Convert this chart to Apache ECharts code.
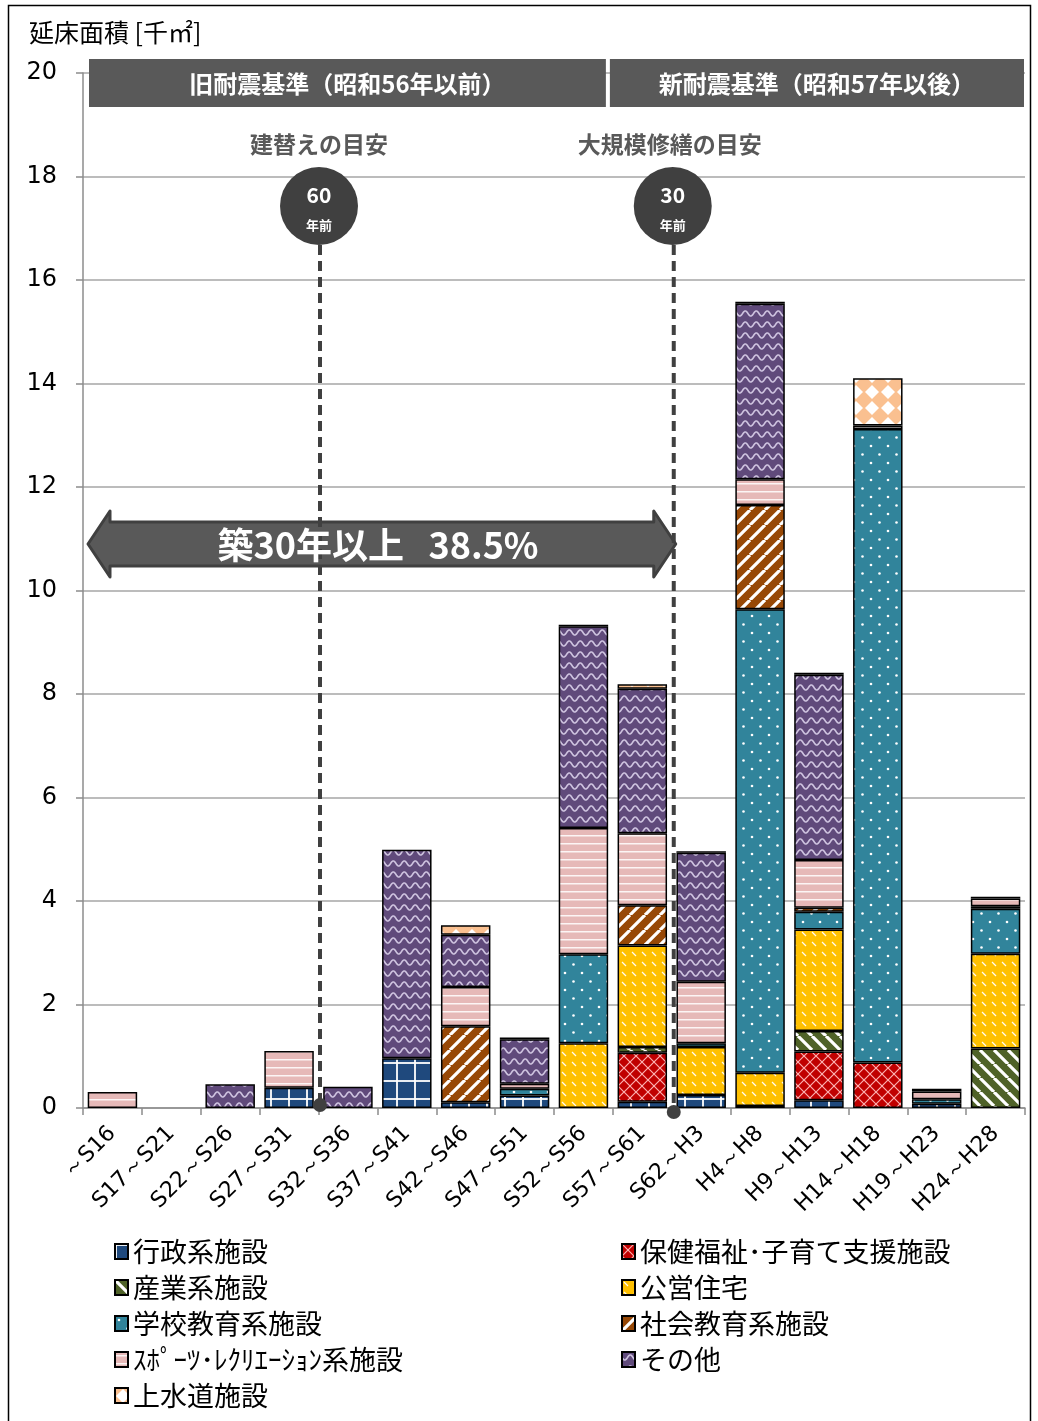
<!DOCTYPE html>
<html><head><meta charset="utf-8">
<script src="https://cdn.jsdelivr.net/npm/echarts@6/dist/echarts.min.js"></script>
<style>html,body{margin:0;padding:0;background:#fff}#c{width:1038px;height:1421px}</style>
</head><body><div id="c"></div>
<script>
// ---------- data ----------
const categories = ['～S16','S17～S21','S22～S26','S27～S31','S32～S36','S37～S41','S42～S46','S47～S51','S52～S56','S57～S61','S62～H3','H4～H8','H9～H13','H14～H18','H19～H23','H24～H28'];
const seriesNames = ['行政系施設','保健福祉･子育て支援施設','産業系施設','公営住宅','学校教育系施設','社会教育系施設','ｽﾎﾟｰﾂ･ﾚｸﾘｴｰｼｮﾝ系施設','その他','上水道施設'];
const gyosei  = [0,0,0,0.39,0,0.96,0.11,0.24,0,0.12,0.25,0.04,0.15,0,0.08,0];
const hoken   = [0,0,0,0,0,0,0,0,0,0.95,0,0,0.94,0.88,0,0];
const sangyo  = [0,0,0,0,0,0,0,0,0,0.11,0,0,0.40,0,0,1.15];
const koei    = [0,0,0,0,0,0,0,0,1.25,1.96,0.93,0.64,1.96,0,0,1.83];
const gakko   = [0,0,0,0,0,0,0,0.13,1.72,0,0.07,8.96,0.34,12.24,0.09,0.87];
const shakai  = [0,0,0,0,0,0,1.47,0,0,0.78,0,2.01,0.08,0,0,0.05];
const sports  = [0.31,0,0,0.71,0,0,0.76,0.10,2.44,1.39,1.19,0.50,0.92,0.07,0.15,0.15];
const sonota  = [0,0,0.46,0,0.41,4.03,1.01,0.86,3.90,2.79,2.49,3.39,3.58,0,0.05,0.03];
const josuido = [0,0,0,0,0,0,0.18,0.03,0.03,0.09,0.03,0.04,0.04,0.91,0,0];
const yTicks = {min:0, max:20, interval:2};
const yAxisTitle = '延床面積 [千㎡]';
const headerOld = '旧耐震基準（昭和56年以前）';
const headerNew = '新耐震基準（昭和57年以後）';
const guideRebuild = '建替えの目安';
const guideRepair = '大規模修繕の目安';
const circleRebuild = '60';
const circleRepair = '30';
const circleSub = '年前';
const arrowText = '築30年以上   38.5%';

// ---------- patterns ----------
function pat(w, h, bg, draw){
  const c = document.createElement('canvas'); c.width = w; c.height = h;
  const g = c.getContext('2d'); g.fillStyle = bg; g.fillRect(0,0,w,h);
  draw(g, w, h); return {image:c, repeat:'repeat'};
}
function diag(g, s, dir, lw, col){
  g.strokeStyle = col; g.lineWidth = lw; g.beginPath();
  for (let k=-1;k<=1;k++){
    if (dir === '/') { g.moveTo(k*s, s); g.lineTo(k*s+s, 0); }
    else { g.moveTo(k*s, 0); g.lineTo(k*s+s, s); }
  }
  g.stroke();
}
const fills = [
  pat(18,18,'#1F497D',(g,w,h)=>{g.fillStyle='rgba(255,255,255,0.9)';g.fillRect(0,0,w,2);g.fillRect(0,0,2,h);}),
  pat(12,12,'#C00000',(g,w,h)=>{diag(g,12,'/',1.2,'rgba(255,185,185,0.95)');diag(g,12,'\\',1.2,'rgba(255,185,185,0.95)');}),
  pat(14,14,'#4F6228',(g,w,h)=>{diag(g,14,'\\',3.2,'#ffffff');}),
  pat(10,10,'#FFC000',(g,w,h)=>{g.strokeStyle='rgba(255,255,255,0.95)';g.lineWidth=1.3;g.beginPath();g.moveTo(2,2);g.lineTo(6,6);g.stroke();}),
  pat(17,17,'#31849B',(g,w,h)=>{g.fillStyle='#ffffff';g.beginPath();g.arc(4,4,1.3,0,Math.PI*2);g.fill();g.beginPath();g.arc(12.5,12.5,1.3,0,Math.PI*2);g.fill();}),
  pat(15,15,'#974806',(g,w,h)=>{diag(g,15,'/',3.2,'#ffffff');}),
  pat(8,8,'#E6B9B8',(g,w,h)=>{g.fillStyle='rgba(255,255,255,0.85)';g.fillRect(0,3,w,1.5);}),
  pat(11,11,'#604A7B',(g,w,h)=>{g.strokeStyle='#CFC4E0';g.lineWidth=1.6;g.beginPath();for(let x=-1;x<=w+1;x+=0.5){const y=5.5+2.6*Math.sin(2*Math.PI*x/w);if(x===-1)g.moveTo(x,y);else g.lineTo(x,y);}g.stroke();}),
  pat(16,16,'#FAC090',(g,w,h)=>{g.fillStyle='#ffffff';g.beginPath();g.moveTo(8,1);g.lineTo(15,8);g.lineTo(8,15);g.lineTo(1,8);g.closePath();g.fill();})
];
const seriesData = [gyosei, hoken, sangyo, koei, gakko, shakai, sports, sonota, josuido];

const FONT_NUM = "'DejaVu Sans', Verdana, sans-serif";
const FONT_JP = "'Noto Sans CJK JP', sans-serif";

const chart = echarts.init(document.getElementById('c'), null, {renderer:'canvas'});
const legendCommon = {orient:'vertical', top:1233, itemWidth:13, itemHeight:15, itemGap:9, icon:'rect',
  textStyle:{fontFamily:FONT_JP, fontSize:27, lineHeight:26, color:'#000'}, selectedMode:false};
chart.setOption({
  animation:false,
  grid:{left:83, right:13, top:73, bottom:313, outerBoundsMode:'none'},
  xAxis:{type:'category', data:categories,
    axisLine:{lineStyle:{color:'#8C8C8C', width:1.5}},
    axisTick:{show:true, length:7, lineStyle:{color:'#8C8C8C', width:1.5}},
    axisLabel:{rotate:45, interval:0, fontFamily:FONT_NUM, fontSize:22, color:'#000', margin:22}},
  yAxis:{type:'value', min:yTicks.min, max:yTicks.max, interval:yTicks.interval,
    axisLine:{show:true, lineStyle:{color:'#8C8C8C', width:1.5}},
    axisTick:{show:true, length:7, lineStyle:{color:'#8C8C8C', width:1.5}},
    splitLine:{lineStyle:{color:'#A6A6A6', width:1.5}},
    axisLabel:{fontFamily:FONT_NUM, fontSize:24, color:'#000', margin:26}},
  legend:[
    Object.assign({left:109, data:[0,2,4,6,8].map(i=>seriesNames[i])}, legendCommon),
    Object.assign({left:616, data:[1,3,5,7].map(i=>seriesNames[i])}, legendCommon)
  ],
  series: seriesNames.map((n,i)=>({
    name:n, type:'bar', stack:'total', barWidth:'84%',
    data: seriesData[i].map(v=> v>0 ? v : '-'),
    itemStyle:{color:fills[i], borderColor:'#000', borderWidth:1.5},
    emphasis:{disabled:true}
  }))
});

// ---------- annotations positioned via the chart's own scales ----------
const cx = i => chart.convertToPixel({xAxisIndex:0}, i);
const cy = v => chart.convertToPixel({yAxisIndex:0}, v);
const bw = cx(1) - cx(0);
const bound = i => cx(i) + bw/2;     // right boundary of category i
const gLeft = cx(0) - bw/2, gRight = cx(categories.length-1) + bw/2;
const yTop = cy(yTicks.max), yZero = cy(0);

const xA = bound(3) + 1.5, xB = bound(9) + 2;
const circY = yTop + 133, circR = 39;
const arrowY = yTop + 471, arrowL = gLeft + 5, arrowR = xB + 2;
const hB = 22, hH = 11;

function guide(x, big, dotDy){
  return [
    {type:'line', z:50, shape:{x1:x, y1:circY+circR, x2:x, y2:yZero}, style:{stroke:'#404040', lineWidth:4, lineDash:[10,6]}},
    {type:'circle', z:51, shape:{cx:x, cy:yZero+dotDy, r:7}, style:{fill:'#404040'}},
    {type:'circle', z:52, shape:{cx:x-1, cy:circY, r:circR}, style:{fill:'#404040'}},
    {type:'text', z:53, x:x-1, y:circY-11, style:{text:big, fill:'#fff', font:"bold 21px 'Noto Sans CJK JP'", align:'center', verticalAlign:'middle'}},
    {type:'text', z:53, x:x-1, y:circY+19, style:{text:circleSub, fill:'#fff', font:"bold 13px 'Noto Sans CJK JP'", align:'center', verticalAlign:'middle'}}
  ];
}

chart.setOption({graphic:[
  {type:'rect', z:1, shape:{x:8.5, y:5.5, width:1022, height:1440}, style:{fill:null, stroke:'#000', lineWidth:1.5}},
  {type:'text', left:29, top:20, style:{text:yAxisTitle, fill:'#000', font:"25px 'Noto Sans CJK JP'"}},
  {type:'rect', z:40, shape:{x:gLeft+6, y:yTop-14, width:bound(8)-7-(gLeft+6), height:48}, style:{fill:'#595959'}},
  {type:'rect', z:40, shape:{x:bound(8)-3, y:yTop-14, width:gRight-1-(bound(8)-3), height:48}, style:{fill:'#595959'}},
  {type:'text', z:41, x:(gLeft+6+bound(8)-7)/2, y:yTop+11, style:{text:headerOld, fill:'#fff', font:"bold 24px 'Noto Sans CJK JP'", align:'center', verticalAlign:'middle'}},
  {type:'text', z:41, x:(bound(8)-3+gRight-1)/2, y:yTop+11, style:{text:headerNew, fill:'#fff', font:"bold 24px 'Noto Sans CJK JP'", align:'center', verticalAlign:'middle'}},
  {type:'text', z:41, x:xA-1, y:yTop+71, style:{text:guideRebuild, fill:'#595959', font:"bold 23px 'Noto Sans CJK JP'", align:'center', verticalAlign:'middle'}},
  {type:'text', z:41, x:xB-4, y:yTop+71, style:{text:guideRepair, fill:'#595959', font:"bold 23px 'Noto Sans CJK JP'", align:'center', verticalAlign:'middle'}},
  {type:'polygon', z:45, shape:{points:[
    [arrowL, arrowY], [arrowL+hB, arrowY-33], [arrowL+hB, arrowY-hH*2], [arrowR-hB, arrowY-hH*2], [arrowR-hB, arrowY-33],
    [arrowR, arrowY], [arrowR-hB, arrowY+33], [arrowR-hB, arrowY+hH*2], [arrowL+hB, arrowY+hH*2], [arrowL+hB, arrowY+33]
  ]}, style:{fill:'#595959', stroke:'#404040', lineWidth:3, lineJoin:'round'}},
  ...guide(xA, circleRebuild, -3),
  ...guide(xB, circleRepair, 4),
  {type:'text', z:60, x:378, y:arrowY+1, style:{text:arrowText, fill:'#fff', font:"bold 36px 'Noto Sans CJK JP'", align:'center', verticalAlign:'middle'}}
]});
</script>
</body></html>
